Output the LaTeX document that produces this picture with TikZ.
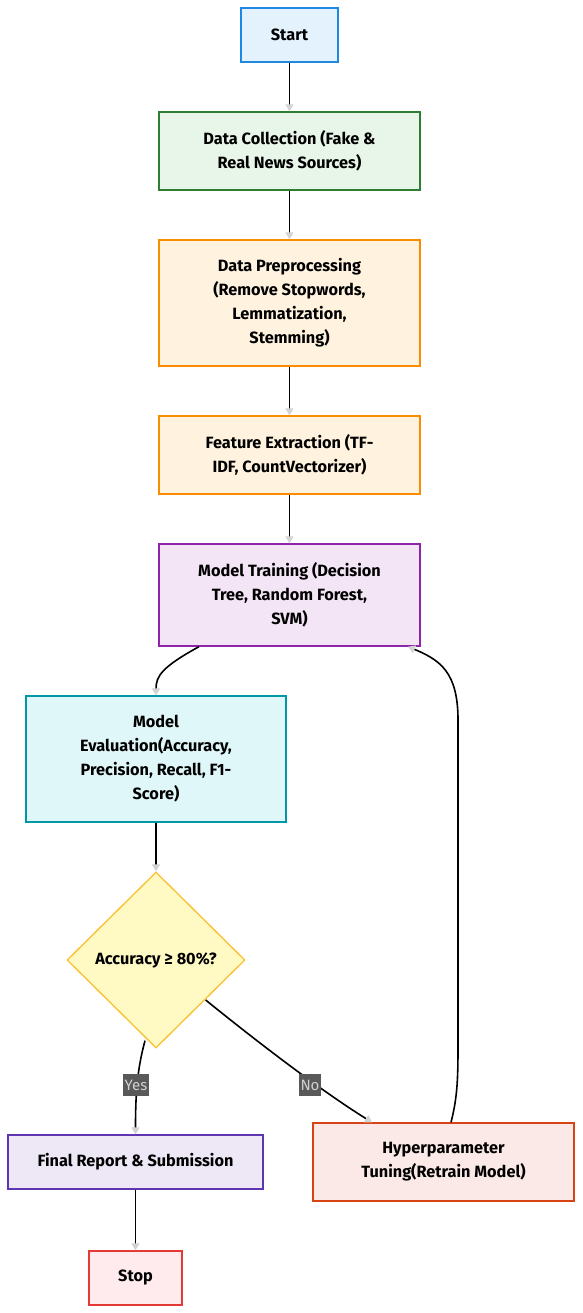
\documentclass[tikz,border=0pt]{standalone}
\usepackage{fontspec}
\setmainfont{Fira Sans}
\usetikzlibrary{arrows.meta,shapes.geometric}
\definecolor{arrgray}{HTML}{D3D3D3}
\definecolor{lblbg}{HTML}{595959}
\definecolor{lbltx}{HTML}{D0D0D0}
\definecolor{startF}{HTML}{E3F2FD}\definecolor{startD}{HTML}{1E88E5}
\definecolor{collF}{HTML}{E8F5E9}\definecolor{collD}{HTML}{2E7D32}
\definecolor{prepF}{HTML}{FFF3E0}\definecolor{prepD}{HTML}{FB8C00}
\definecolor{trainF}{HTML}{F3E5F5}\definecolor{trainD}{HTML}{8E24AA}
\definecolor{evalF}{HTML}{E0F7FA}\definecolor{evalD}{HTML}{0097A7}
\definecolor{decF}{HTML}{FFF9C4}\definecolor{decD}{HTML}{FBC02D}
\definecolor{finF}{HTML}{EDE7F6}\definecolor{finD}{HTML}{5E35B1}
\definecolor{hypF}{HTML}{FBE9E7}\definecolor{hypD}{HTML}{D84315}
\definecolor{stopF}{HTML}{FFEBEE}\definecolor{stopD}{HTML}{E53935}
\tikzset{
  box/.style={draw, line width=1.3pt, rectangle, align=center, font=\fontsize{16.3}{24}\selectfont\bfseries, inner sep=0pt, anchor=center},
  flow/.style={line width=1.6pt, draw=black, -{Triangle[color=arrgray,length=7pt,width=8pt]}},
  lbl/.style={fill=lblbg, text=lbltx, font=\fontsize{15}{16}\selectfont, inner sep=1.5pt, minimum height=22pt},
}
\begin{document}
\begin{tikzpicture}[x=1pt,y=-1pt]
\useasboundingbox (0,0) rectangle (582,1313);
\node[box, fill=startF, draw=startD, minimum width=97pt, minimum height=54pt] (start) at (289.5,35) {Start};
\node[box, fill=collF, draw=collD, minimum width=261pt, minimum height=78pt] (collect) at (289.5,151) {Data Collection (Fake \&\\Real News Sources)};
\node[box, fill=prepF, draw=prepD, minimum width=261pt, minimum height=126pt] (prep) at (289.5,303) {Data Preprocessing\\(Remove Stopwords,\\Lemmatization,\\Stemming)};
\node[box, fill=prepF, draw=prepD, minimum width=261pt, minimum height=78pt] (feat) at (289.5,455) {Feature Extraction (TF-\\IDF, CountVectorizer)};
\node[box, fill=trainF, draw=trainD, minimum width=261pt, minimum height=102pt] (train) at (289.5,595) {Model Training (Decision\\Tree, Random Forest,\\SVM)};
\node[box, fill=evalF, draw=evalD, minimum width=260pt, minimum height=126pt] (eval) at (156,759) {Model\\Evaluation(Accuracy,\\Precision, Recall, F1-\\Score)};
\node[diamond, draw=decD, fill=decF, line width=1.3pt, minimum width=178pt, minimum height=176pt, inner sep=0pt, font=\fontsize{16.3}{24}\selectfont\bfseries] (dec) at (156,960) {Accuracy ≥ 80\%?};
\node[box, fill=finF, draw=finD, minimum width=255pt, minimum height=54pt] (final) at (135.5,1162) {Final Report \& Submission};
\node[box, fill=hypF, draw=hypD, minimum width=261pt, minimum height=78pt] (hyper) at (443.5,1162) {Hyperparameter\\Tuning(Retrain Model)};
\node[box, fill=stopF, draw=stopD, minimum width=93pt, minimum height=54pt] (stop) at (135.5,1278) {Stop};

\draw[flow] (start.south) -- (collect.north);
\draw[flow] (collect.south) -- (prep.north);
\draw[flow] (prep.south) -- (feat.north);
\draw[flow] (feat.south) -- (train.north);
\draw[flow] (train.south -| 199,0) .. controls (162,667) and (156,676) .. (eval.north);
\draw[flow] (eval.south) -- (dec.north);
\draw[flow] (dec.south) ++(-11,-8) .. controls (137,1070) and (135.5,1095) .. (final.north);
\draw[flow] (dec.east) ++(-40,40) .. controls (255,1040) and (320,1090) .. (hyper.north -| 372,0);
\draw[flow] (hyper.north -| 451,0) .. controls (458,1095) and (458,1075) .. (458,1040) -- (458,720) .. controls (458,672) and (440,660) .. (train.south -| 408,0);
\draw[flow] (final.south) -- (stop.north);
\node[lbl] (yes) at (136,1085) {Yes};
\node[lbl] (no) at (310,1085) {No};
\end{tikzpicture}
\end{document}
